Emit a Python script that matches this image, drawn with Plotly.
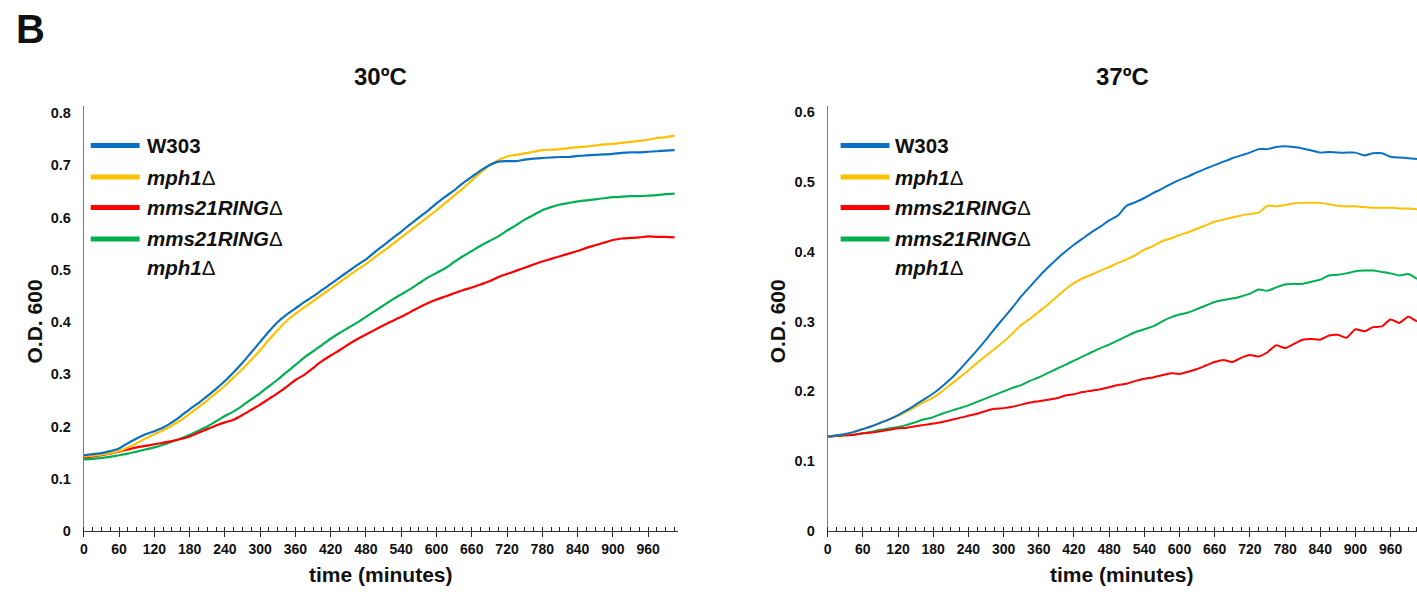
import plotly.graph_objects as go

# ---- data: O.D. 600 readings every 15 minutes ----
minutes = list(range(0, 1006, 15))

strains = ["W303", "mph1Δ", "mms21RINGΔ", "mms21RINGΔ mph1Δ"]
colors = ["#0A70C2", "#FFC000", "#FF0000", "#00B050"]

w303_30 = [0.145, 0.147, 0.149, 0.153, 0.158, 0.168, 0.177, 0.185, 0.191, 0.198, 0.208, 0.220,
           0.233, 0.245, 0.258, 0.272, 0.287, 0.304, 0.322, 0.342, 0.362, 0.382, 0.400, 0.414,
           0.426, 0.438, 0.449, 0.461, 0.473, 0.485, 0.497, 0.509, 0.520, 0.534, 0.547, 0.560,
           0.573, 0.587, 0.600, 0.613, 0.627, 0.640, 0.652, 0.666, 0.678, 0.690, 0.700, 0.707,
           0.708, 0.708, 0.711, 0.713, 0.714, 0.715, 0.716, 0.716, 0.718, 0.719, 0.720, 0.721,
           0.722, 0.724, 0.725, 0.725, 0.726, 0.727, 0.728, 0.729]
mph1_30 = [0.143, 0.144, 0.146, 0.149, 0.153, 0.160, 0.168, 0.177, 0.185, 0.193, 0.202, 0.212,
           0.224, 0.237, 0.250, 0.264, 0.278, 0.294, 0.310, 0.328, 0.346, 0.366, 0.385, 0.402,
           0.416, 0.428, 0.440, 0.452, 0.464, 0.476, 0.488, 0.500, 0.511, 0.524, 0.536, 0.549,
           0.562, 0.575, 0.588, 0.601, 0.614, 0.628, 0.642, 0.656, 0.671, 0.686, 0.700, 0.710,
           0.717, 0.720, 0.723, 0.726, 0.729, 0.730, 0.731, 0.733, 0.735, 0.736, 0.738, 0.740,
           0.741, 0.743, 0.745, 0.747, 0.749, 0.752, 0.754, 0.757]
ring_30 = [0.141, 0.143, 0.145, 0.148, 0.152, 0.156, 0.160, 0.163, 0.166, 0.169, 0.172, 0.176,
           0.181, 0.188, 0.195, 0.202, 0.208, 0.213, 0.222, 0.232, 0.242, 0.253, 0.264, 0.276,
           0.289, 0.299, 0.312, 0.325, 0.336, 0.346, 0.357, 0.367, 0.376, 0.385, 0.394, 0.402,
           0.410, 0.419, 0.428, 0.436, 0.443, 0.449, 0.455, 0.461, 0.466, 0.472, 0.478, 0.486,
           0.492, 0.498, 0.504, 0.510, 0.516, 0.521, 0.526, 0.531, 0.536, 0.542, 0.547, 0.552,
           0.557, 0.560, 0.561, 0.562, 0.564, 0.563, 0.563, 0.562]
ring_mph1_30 = [0.137, 0.138, 0.140, 0.142, 0.145, 0.148, 0.152, 0.156, 0.160, 0.165, 0.171, 0.177,
                0.184, 0.192, 0.200, 0.210, 0.220, 0.229, 0.240, 0.252, 0.264, 0.277, 0.290, 0.304,
                0.318, 0.332, 0.344, 0.356, 0.368, 0.379, 0.389, 0.399, 0.410, 0.421, 0.432, 0.443,
                0.453, 0.463, 0.474, 0.485, 0.494, 0.503, 0.515, 0.526, 0.536, 0.546, 0.555, 0.564,
                0.575, 0.585, 0.596, 0.605, 0.614, 0.620, 0.625, 0.628, 0.631, 0.633, 0.635, 0.637,
                0.639, 0.640, 0.641, 0.641, 0.642, 0.643, 0.645, 0.646]

w303_37 = [0.135, 0.137, 0.139, 0.142, 0.146, 0.150, 0.155, 0.160, 0.166, 0.173, 0.181, 0.189,
           0.197, 0.207, 0.218, 0.231, 0.245, 0.259, 0.274, 0.290, 0.305, 0.320, 0.336, 0.350,
           0.364, 0.377, 0.389, 0.400, 0.410, 0.419, 0.428, 0.436, 0.445, 0.452, 0.466, 0.471,
           0.477, 0.484, 0.490, 0.497, 0.503, 0.508, 0.514, 0.519, 0.524, 0.529, 0.534, 0.538,
           0.542, 0.547, 0.547, 0.550, 0.551, 0.550, 0.548, 0.545, 0.542, 0.543, 0.542, 0.542,
           0.542, 0.538, 0.541, 0.541, 0.536, 0.535, 0.534, 0.533]
mph1_37 = [0.135, 0.137, 0.139, 0.142, 0.146, 0.150, 0.155, 0.160, 0.165, 0.171, 0.178, 0.185,
           0.191, 0.200, 0.210, 0.220, 0.230, 0.241, 0.251, 0.261, 0.271, 0.283, 0.295, 0.304,
           0.314, 0.324, 0.335, 0.346, 0.355, 0.362, 0.367, 0.373, 0.378, 0.384, 0.389, 0.395,
           0.403, 0.408, 0.415, 0.419, 0.424, 0.428, 0.433, 0.438, 0.443, 0.446, 0.449, 0.452,
           0.454, 0.456, 0.466, 0.465, 0.467, 0.469, 0.470, 0.470, 0.470, 0.468, 0.466, 0.465,
           0.465, 0.464, 0.463, 0.463, 0.463, 0.462, 0.462, 0.461]
ring_37 = [0.135, 0.136, 0.137, 0.138, 0.140, 0.141, 0.143, 0.145, 0.147, 0.148, 0.150, 0.152,
           0.154, 0.156, 0.159, 0.162, 0.165, 0.168, 0.172, 0.175, 0.176, 0.178, 0.181, 0.184,
           0.186, 0.188, 0.190, 0.194, 0.196, 0.199, 0.201, 0.203, 0.206, 0.209, 0.211, 0.215,
           0.218, 0.220, 0.223, 0.226, 0.225, 0.228, 0.232, 0.237, 0.242, 0.245, 0.242, 0.248,
           0.252, 0.250, 0.256, 0.266, 0.262, 0.268, 0.274, 0.275, 0.274, 0.280, 0.281, 0.277,
           0.289, 0.286, 0.292, 0.293, 0.303, 0.298, 0.307, 0.300]
ring_mph1_37 = [0.135, 0.136, 0.137, 0.138, 0.140, 0.142, 0.145, 0.147, 0.149, 0.152, 0.156, 0.160,
                0.163, 0.168, 0.172, 0.176, 0.180, 0.185, 0.190, 0.195, 0.200, 0.205, 0.209, 0.215,
                0.220, 0.226, 0.232, 0.238, 0.244, 0.250, 0.256, 0.262, 0.267, 0.273, 0.279, 0.285,
                0.289, 0.293, 0.300, 0.306, 0.310, 0.313, 0.318, 0.323, 0.328, 0.331, 0.333, 0.336,
                0.340, 0.346, 0.344, 0.349, 0.353, 0.354, 0.354, 0.357, 0.360, 0.366, 0.367, 0.369,
                0.372, 0.373, 0.373, 0.371, 0.369, 0.366, 0.368, 0.361]

series_30 = [w303_30, mph1_30, ring_30, ring_mph1_30]
series_37 = [w303_37, mph1_37, ring_37, ring_mph1_37]
for s in series_30 + series_37:
    assert len(s) == len(minutes), len(s)

panel_titles = ["30ºC", "37ºC"]
y_ticks_30 = [0, 0.1, 0.2, 0.3, 0.4, 0.5, 0.6, 0.7, 0.8]
y_ticks_37 = [0, 0.1, 0.2, 0.3, 0.4, 0.5, 0.6]
x_ticks = list(range(0, 961, 60))

# ---- page geometry (pixels) ----
W, H = 1417, 597
FONT = "Liberation Sans, Arial, Helvetica, sans-serif"


def px(x):
    return x / W


def py(y):
    return 1 - y / H


fig = go.Figure()

# curves: draw in reverse so W303 ends up on top
for k in reversed(range(4)):
    fig.add_trace(go.Scatter(x=minutes, y=series_30[k], mode="lines", name=strains[k],
                             line=dict(color=colors[k], width=2.2, shape="spline", smoothing=0.6),
                             showlegend=False, xaxis="x", yaxis="y"))
    fig.add_trace(go.Scatter(x=minutes, y=series_37[k], mode="lines", name=strains[k],
                             line=dict(color=colors[k], width=2, shape="spline", smoothing=0.6),
                             showlegend=False, xaxis="x2", yaxis="y2"))

tickfont = dict(family=FONT, size=14, color="#111", weight="bold")
ytickfont = dict(family=FONT, size=14.5, color="#111", weight="bold")


def x_axis(domain, rng, anchor):
    return dict(domain=domain, range=rng, anchor=anchor,
                tickmode="array", tickvals=x_ticks, ticktext=[str(v) for v in x_ticks],
                ticks="outside", ticklen=5, tickwidth=1, tickcolor="#222",
                minor=dict(tickmode="linear", tick0=0, dtick=15, ticks="inside",
                           ticklen=4, tickwidth=1, tickcolor="#222"),
                showline=True, linecolor="#333", linewidth=1,
                showgrid=False, zeroline=False, tickfont=tickfont, fixedrange=True)


def y_axis(domain, rng, anchor, vals):
    return dict(domain=domain, range=rng, anchor=anchor,
                tickmode="array", tickvals=vals, ticktext=[("0" if v == 0 else f"{v:g}") for v in vals],
                ticks="", showline=True, linecolor="#7a7a7a", linewidth=1,
                showgrid=False, zeroline=False, tickfont=ytickfont,
                ticklabelstandoff=9, fixedrange=True)


y_dom = [py(538), py(106)]
fig.update_layout(
    width=W, height=H,
    margin=dict(l=0, r=0, t=0, b=0),
    paper_bgcolor="white", plot_bgcolor="white",
    showlegend=False,
    xaxis=x_axis([px(80), px(676)], [0, 1011], "y"),
    yaxis=y_axis(y_dom, [0, (538 - 106) / 531.25], "x", y_ticks_30),
    xaxis2=x_axis([px(826), 1.0], [0, 1005], "y2"),
    yaxis2=y_axis(y_dom, [0, (538 - 106) / 710.0], "x2", y_ticks_37),
)

ann = []
shapes = []

# panel letter
ann.append(dict(text="<b>B</b>", x=px(10), y=py(27), xref="paper", yref="paper",
                xanchor="left", yanchor="middle", showarrow=False,
                font=dict(family=FONT, size=40, color="#111")))

panels = [
    dict(cx=(80 + 676) / 2, ytitle_x=31, leg_x0=87, leg_x1=136, text_x=141),
    dict(cx=(826 + 1417) / 2, ytitle_x=776, leg_x0=839, leg_x1=888, text_x=892),
]
legend_rows = [146, 178, 209, 241]
legend_labels = ["<b>W303</b>", "<b><i>mph1</i></b>Δ", "<b><i>mms21RING</i></b>Δ",
                 "<b><i>mms21RING</i></b>Δ"]

for p, title in zip(panels, panel_titles):
    ann.append(dict(text=f"<b>{title}</b>", x=px(p["cx"]), y=py(76), xref="paper", yref="paper",
                    xanchor="center", yanchor="middle", showarrow=False,
                    font=dict(family=FONT, size=24, color="#111")))
    ann.append(dict(text="<b>time (minutes)</b>", x=px(p["cx"]), y=py(582), xref="paper",
                    yref="paper", xanchor="center", yanchor="middle", showarrow=False,
                    font=dict(family=FONT, size=21, color="#111")))
    ann.append(dict(text="<b>O.D. 600</b>", x=px(p["ytitle_x"]), y=py(325), xref="paper",
                    yref="paper", xanchor="center", yanchor="middle", textangle=-90,
                    showarrow=False, font=dict(family=FONT, size=21, color="#111")))
    # legend swatches and labels
    for k, yrow in enumerate(legend_rows):
        shapes.append(dict(type="line", xref="paper", yref="paper",
                           x0=px(p["leg_x0"]), x1=px(p["leg_x1"]), y0=py(yrow), y1=py(yrow),
                           line=dict(color=colors[k], width=5)))
        ann.append(dict(text=legend_labels[k], x=px(p["text_x"]), y=py(yrow), xref="paper",
                        yref="paper", xanchor="left", yanchor="middle", showarrow=False,
                        font=dict(family=FONT, size=20.5, color="#111")))
    ann.append(dict(text="<b><i>mph1</i></b>Δ", x=px(p["text_x"]), y=py(270), xref="paper",
                    yref="paper", xanchor="left", yanchor="middle", showarrow=False,
                    font=dict(family=FONT, size=20.5, color="#111")))

fig.update_layout(annotations=ann, shapes=shapes)

fig.write_html("out.html")
